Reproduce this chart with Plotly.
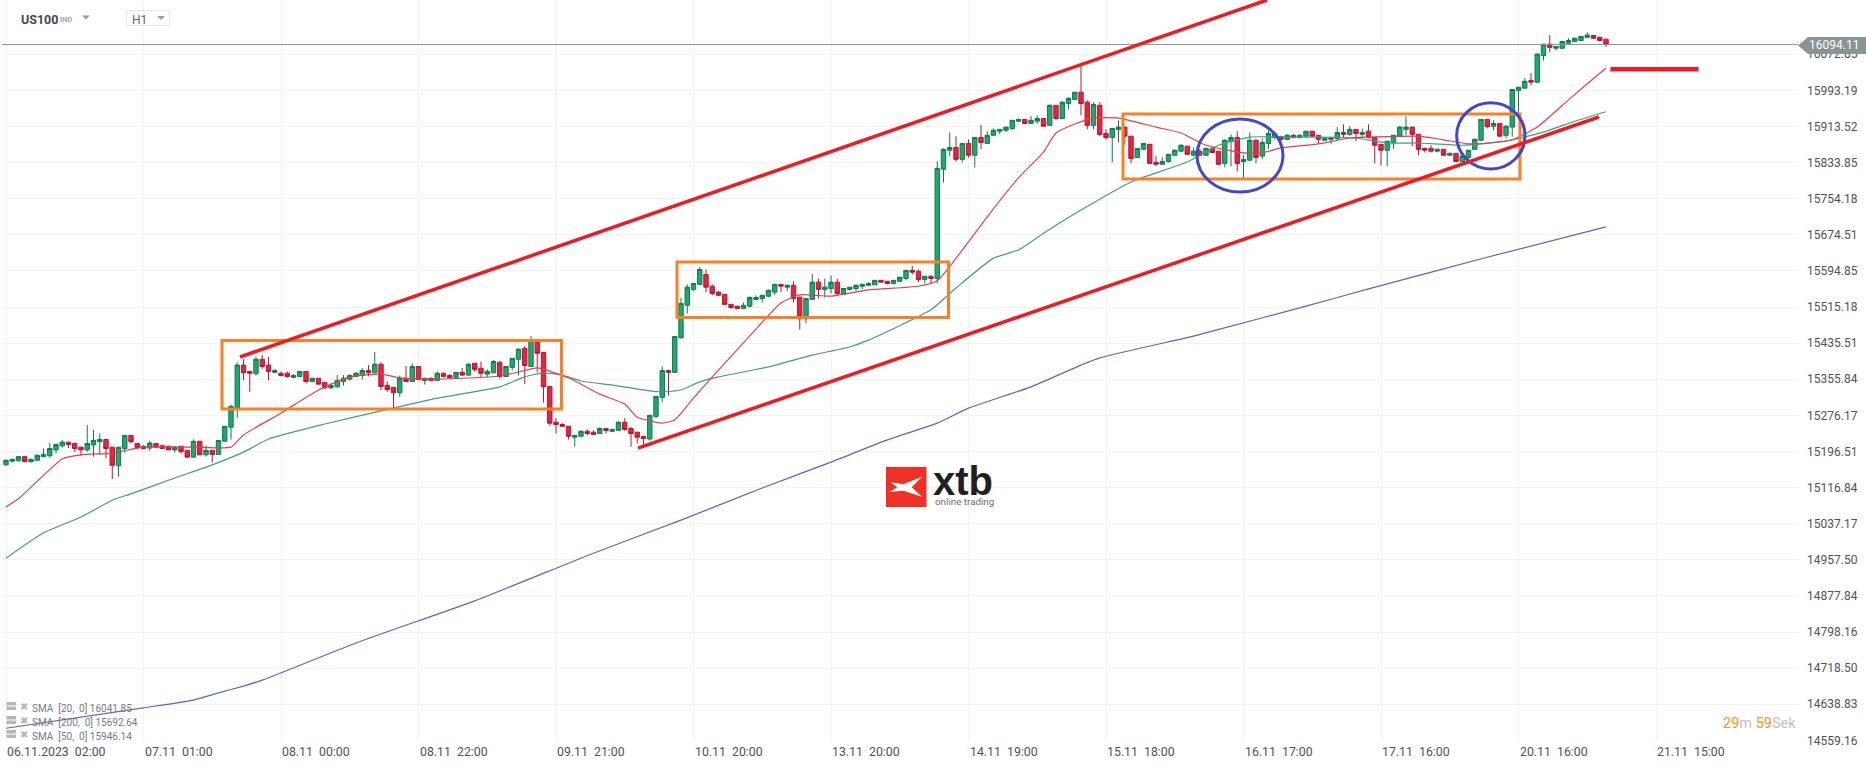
"""US100 H1 candlestick chart with SMA lines and drawn-on channel and boxes."""

import plotly.graph_objects as go

WIDTH = 1866
HEIGHT = 767
FONT = "Roboto"

# Values, one candle per trading hour.
opens = [
    15167, 15175, 15176, 15185, 15174, 15177, 15185, 15187, 15200, 15209,
    15217, 15214, 15206, 15200, 15211, 15218, 15223, 15206, 15165, 15203,
    15232, 15214, 15208, 15204, 15214, 15209, 15208, 15200, 15208, 15199,
    15184, 15219, 15189, 15199, 15190, 15219, 15250, 15293, 15387, 15373,
    15368, 15400, 15387, 15371, 15369, 15369, 15360, 15362, 15373, 15351,
    15358, 15349, 15337, 15339, 15351, 15356, 15362, 15364, 15375, 15370,
    15389, 15342, 15338, 15326, 15358, 15351, 15384, 15353, 15358, 15353,
    15369, 15364, 15360, 15371, 15365, 15391, 15380, 15367, 15370, 15393,
    15362, 15382, 15400, 15424, 15384, 15442, 15415, 15340, 15261, 15256,
    15252, 15228, 15230, 15241, 15239, 15236, 15247, 15241, 15243, 15261,
    15247, 15239, 15230, 15224, 15274, 15316, 15375, 15371, 15447, 15519,
    15554, 15565, 15587, 15561, 15548, 15543, 15521, 15517, 15512, 15517,
    15532, 15534, 15539, 15548, 15565, 15559, 15563, 15537, 15489, 15532,
    15570, 15554, 15556, 15570, 15543, 15554, 15556, 15561, 15563, 15564,
    15574, 15572, 15567, 15572, 15578, 15596, 15594, 15576, 15583, 15578,
    15819, 15861, 15867, 15841, 15876, 15850, 15889, 15876, 15894, 15903,
    15905, 15909, 15925, 15929, 15920, 15925, 15931, 15916, 15960, 15931,
    15964, 15973, 15989, 15967, 15916, 15960, 15898, 15889, 15907, 15912,
    15892, 15845, 15863, 15874, 15834, 15830, 15836, 15850, 15859, 15870,
    15850, 15859, 15850, 15865, 15859, 15832, 15880, 15889, 15836, 15839,
    15883, 15848, 15876, 15889, 15891, 15885, 15894, 15889, 15892, 15903,
    15894, 15883, 15885, 15887, 15900, 15896, 15907, 15896, 15903, 15889,
    15874, 15861, 15878, 15892, 15907, 15912, 15896, 15865, 15865, 15859,
    15863, 15850, 15854, 15836, 15845, 15863, 15883, 15929, 15914, 15920,
    15894, 15912, 15993, 15998, 16015, 16011, 16070, 16095, 16086, 16086,
    16097, 16101, 16103, 16110, 16114, 16110, 16106,
]
highs = [
    15179, 15181, 15186, 15186, 15181, 15190, 15203, 15215, 15214, 15222,
    15217, 15216, 15207, 15255, 15244, 15236, 15223, 15206, 15206, 15232,
    15232, 15214, 15210, 15220, 15214, 15212, 15209, 15209, 15208, 15199,
    15223, 15219, 15210, 15199, 15221, 15252, 15300, 15393, 15400, 15373,
    15405, 15409, 15405, 15378, 15373, 15373, 15367, 15374, 15373, 15358,
    15358, 15349, 15347, 15365, 15365, 15367, 15372, 15380, 15387, 15416,
    15393, 15351, 15338, 15364, 15385, 15391, 15384, 15359, 15360, 15373,
    15371, 15367, 15371, 15381, 15391, 15391, 15395, 15378, 15398, 15396,
    15384, 15402, 15424, 15429, 15451, 15445, 15415, 15340, 15270, 15259,
    15252, 15232, 15243, 15245, 15243, 15250, 15247, 15247, 15263, 15270,
    15250, 15239, 15230, 15278, 15318, 15384, 15375, 15450, 15536, 15565,
    15567, 15603, 15598, 15565, 15550, 15543, 15521, 15517, 15525, 15539,
    15541, 15541, 15554, 15567, 15565, 15565, 15572, 15537, 15534, 15588,
    15578, 15578, 15585, 15578, 15556, 15559, 15565, 15567, 15570, 15574,
    15574, 15572, 15574, 15581, 15596, 15606, 15598, 15583, 15585, 15837,
    15865, 15900, 15892, 15876, 15885, 15889, 15917, 15903, 15909, 15907,
    15912, 15927, 15931, 15929, 15936, 15938, 15931, 15962, 15960, 15969,
    15978, 15989, 16047, 15971, 15967, 15967, 15907, 15909, 15927, 15912,
    15892, 15865, 15876, 15874, 15848, 15845, 15852, 15863, 15874, 15870,
    15867, 15863, 15867, 15869, 15859, 15885, 15896, 15903, 15850, 15900,
    15885, 15887, 15905, 15903, 15893, 15896, 15896, 15896, 15903, 15903,
    15894, 15889, 15891, 15912, 15918, 15914, 15907, 15909, 15918, 15889,
    15874, 15881, 15894, 15914, 15936, 15912, 15896, 15867, 15872, 15865,
    15863, 15856, 15854, 15854, 15861, 15887, 15929, 15929, 15927, 15920,
    15916, 15995, 16000, 16020, 16031, 16075, 16095, 16115, 16090, 16101,
    16108, 16110, 16112, 16121, 16114, 16112, 16106,
]
lows = [
    15165, 15173, 15175, 15173, 15172, 15176, 15184, 15183, 15192, 15205,
    15204, 15195, 15187, 15196, 15185, 15189, 15181, 15136, 15141, 15194,
    15214, 15201, 15201, 15198, 15204, 15203, 15200, 15194, 15192, 15183,
    15184, 15189, 15185, 15172, 15190, 15219, 15223, 15271, 15354, 15328,
    15364, 15379, 15353, 15370, 15362, 15359, 15358, 15360, 15346, 15351,
    15344, 15334, 15334, 15338, 15342, 15353, 15360, 15355, 15362, 15369,
    15332, 15328, 15292, 15317, 15349, 15350, 15354, 15344, 15351, 15352,
    15360, 15358, 15359, 15363, 15364, 15372, 15359, 15360, 15370, 15358,
    15362, 15375, 15364, 15345, 15384, 15371, 15304, 15253, 15236, 15250,
    15223, 15207, 15229, 15232, 15233, 15236, 15236, 15239, 15242, 15242,
    15207, 15214, 15210, 15220, 15270, 15305, 15320, 15371, 15447, 15501,
    15550, 15565, 15548, 15541, 15539, 15519, 15511, 15510, 15511, 15514,
    15530, 15525, 15537, 15541, 15548, 15550, 15525, 15465, 15479, 15532,
    15534, 15536, 15545, 15541, 15542, 15552, 15550, 15554, 15562, 15564,
    15569, 15565, 15565, 15570, 15574, 15587, 15570, 15567, 15565, 15567,
    15790, 15848, 15836, 15834, 15845, 15823, 15863, 15876, 15893, 15896,
    15901, 15906, 15923, 15920, 15919, 15920, 15912, 15915, 15927, 15931,
    15951, 15972, 15938, 15907, 15907, 15892, 15884, 15834, 15878, 15874,
    15832, 15845, 15862, 15831, 15826, 15829, 15834, 15848, 15857, 15851,
    15847, 15847, 15850, 15854, 15828, 15823, 15825, 15814, 15800, 15837,
    15832, 15841, 15864, 15885, 15882, 15883, 15887, 15887, 15891, 15891,
    15876, 15881, 15874, 15882, 15889, 15893, 15881, 15889, 15887, 15832,
    15827, 15826, 15864, 15891, 15894, 15870, 15850, 15856, 15856, 15856,
    15849, 15849, 15836, 15836, 15832, 15862, 15882, 15909, 15905, 15891,
    15887, 15891, 15942, 15997, 16004, 16010, 16059, 16077, 16081, 16084,
    16095, 16099, 16103, 16109, 16107, 16101, 16089,
]
closes = [
    15177, 15179, 15185, 15174, 15179, 15188, 15190, 15203, 15212, 15217,
    15212, 15203, 15200, 15214, 15221, 15223, 15203, 15166, 15206, 15232,
    15218, 15205, 15203, 15215, 15206, 15203, 15200, 15206, 15196, 15184,
    15219, 15189, 15199, 15190, 15221, 15252, 15296, 15387, 15370, 15369,
    15400, 15384, 15373, 15375, 15364, 15362, 15364, 15373, 15351, 15358,
    15345, 15337, 15342, 15353, 15358, 15364, 15369, 15375, 15370, 15389,
    15340, 15333, 15326, 15358, 15351, 15384, 15355, 15358, 15353, 15369,
    15362, 15359, 15371, 15365, 15389, 15377, 15369, 15373, 15395, 15362,
    15384, 15402, 15422, 15386, 15442, 15413, 15339, 15259, 15256, 15252,
    15230, 15232, 15241, 15236, 15234, 15247, 15243, 15245, 15261, 15245,
    15236, 15228, 15225, 15276, 15318, 15375, 15371, 15450, 15523, 15559,
    15567, 15598, 15559, 15545, 15541, 15521, 15514, 15512, 15519, 15536,
    15536, 15541, 15552, 15565, 15561, 15563, 15534, 15489, 15534, 15570,
    15554, 15559, 15570, 15545, 15556, 15559, 15563, 15565, 15567, 15574,
    15570, 15567, 15574, 15581, 15596, 15592, 15576, 15583, 15578, 15821,
    15863, 15867, 15841, 15876, 15850, 15889, 15878, 15894, 15905, 15907,
    15912, 15927, 15929, 15920, 15927, 15931, 15914, 15960, 15931, 15967,
    15975, 15989, 15964, 15916, 15962, 15896, 15889, 15909, 15912, 15892,
    15843, 15865, 15876, 15832, 15830, 15836, 15852, 15861, 15872, 15852,
    15859, 15850, 15865, 15856, 15830, 15883, 15889, 15832, 15841, 15883,
    15845, 15878, 15898, 15897, 15885, 15894, 15889, 15894, 15903, 15892,
    15885, 15887, 15889, 15900, 15896, 15907, 15898, 15900, 15889, 15872,
    15861, 15881, 15894, 15912, 15912, 15896, 15863, 15861, 15859, 15863,
    15850, 15854, 15836, 15848, 15861, 15885, 15929, 15913, 15920, 15892,
    15914, 15995, 16000, 16013, 16011, 16073, 16095, 16088, 16090, 16101,
    16103, 16108, 16112, 16115, 16108, 16103, 16094,
]

# Moving averages, read at the bars where the lines bend.
sma20_bars = [0, 2, 9, 12, 17, 22, 30, 36, 38, 44, 50, 55, 60, 63, 69, 79, 85,
              86, 90, 95, 99, 101, 105, 107, 110, 113, 118, 124, 127, 132, 138,
              146, 149, 154, 157, 162, 166, 168, 171, 174, 178, 184, 188, 192,
              198, 201, 204, 210, 215, 218, 226, 230, 234, 237, 241, 245, 250,
              255, 256]
sma20_vals = [15074, 15092, 15180, 15189, 15193, 15206, 15206, 15206, 15233,
              15281, 15332, 15361, 15367, 15359, 15356, 15363, 15381, 15378,
              15359, 15323, 15301, 15272, 15259, 15266, 15314, 15361, 15436,
              15524, 15542, 15539, 15553, 15561, 15573, 15659, 15714, 15800,
              15857, 15899, 15919, 15932, 15932, 15912, 15899, 15872, 15855,
              15855, 15866, 15875, 15888, 15890, 15892, 15884, 15875, 15877,
              15884, 15912, 15972, 16031, 16042]
sma50_bars = [0, 6, 12, 17, 20, 27, 33, 38, 42, 51, 60, 69, 79, 83, 86, 89, 92,
              97, 103, 105, 108, 111, 114, 122, 129, 135, 138, 148, 152, 158,
              162, 166, 172, 180, 189, 194, 199, 205, 210, 216, 221, 226, 233,
              240, 246, 251, 256]
sma50_vals = [14961, 15017, 15052, 15089, 15103, 15138, 15167, 15195, 15224,
              15257, 15286, 15314, 15339, 15361, 15370, 15365, 15352, 15343,
              15330, 15328, 15332, 15350, 15361, 15383, 15409, 15427, 15442,
              15509, 15557, 15623, 15641, 15678, 15729, 15791, 15835, 15872,
              15890, 15890, 15890, 15888, 15877, 15877, 15872, 15881, 15901,
              15925, 15946]
sma200_bars = [0, 22, 30, 34, 38, 41, 56, 75, 94, 108, 121, 132, 141, 149, 154,
               164, 172, 175, 190, 193, 208, 218, 237, 256]
sma200_vals = [14586, 14631, 14648, 14664, 14679, 14692, 14774, 14867, 14972,
               15045, 15116, 15173, 15222, 15259, 15292, 15339, 15387, 15403,
               15451, 15462, 15517, 15555, 15625, 15692]

price_ticks = [16072.85, 15993.19, 15913.52, 15833.85, 15754.18, 15674.51,
               15594.85, 15515.18, 15435.51, 15355.84, 15276.17, 15196.51,
               15116.84, 15037.17, 14957.50, 14877.84, 14798.16, 14718.50,
               14638.83, 14559.16]
time_labels = ["06.11.2023  02:00", "07.11  01:00", "08.11  00:00",
               "08.11  22:00", "09.11  21:00", "10.11  20:00", "13.11  20:00",
               "14.11  19:00", "15.11  18:00", "16.11  17:00", "17.11  16:00",
               "20.11  16:00", "21.11  15:00"]
BARS_PER_LABEL = 22

last_price = 16094.11
sma_legend = ["SMA  [20,  0] 16041.85", "SMA  [200,  0] 15692.64",
              "SMA  [50,  0] 15946.14"]

# Drawn-on marks as (first bar, last bar, top price, bottom price).
orange_boxes = [(34.56, 88.88, 15441.3, 15290.1),
                (107.36, 150.8, 15614.4, 15492.0),
                (178.72, 242.24, 15940.9, 15797.5)]
blue_circles = [(190.56, 204.32, 15929.9, 15768.9),
                (232.1, 243.04, 15965.8, 15819.6)]
# Red lines as (bar, price, bar, price).
channel_lines = [(37.44, 15404.9, 201.76, 16192.4),
                 (101.12, 15204.0, 254.88, 15934.3)]
target_line = (256.7, 16039.5, 270.8, 16039.5)


def px_x(x):
    """Turn a page pixel into a paper x for the interface decorations."""
    return (x - 2) / 1796


def px_y(y):
    """Turn a page pixel into a paper y for the interface decorations."""
    return (741 - y) / 741


def paper_path(points):
    """Build a closed SVG path in paper units from page pixels."""
    parts = [f"{px_x(x):.5f},{px_y(y):.5f}" for x, y in points]
    return "M" + " L".join(parts) + " Z"


def paper_shape(**kwargs):
    return dict(xref="paper", yref="paper", **kwargs)


def text_at(x, y, text, size=12, color="#4d5358", anchor="left", **kwargs):
    font = dict(family=kwargs.pop("family", FONT), size=size, color=color)
    return dict(xref="paper", yref="paper", x=px_x(x), y=px_y(y), text=text,
                showarrow=False, xanchor=anchor, yanchor="middle", font=font,
                borderpad=0, **kwargs)


bars = list(range(len(opens)))

fig = go.Figure()
fig.add_trace(go.Candlestick(
    x=bars, open=opens, high=highs, low=lows, close=closes,
    increasing=dict(line=dict(color="#0f7a50", width=1), fillcolor="#20a96f"),
    decreasing=dict(line=dict(color="#b01b30", width=1), fillcolor="#ee2040"),
    whiskerwidth=0, hoverinfo="skip", showlegend=False))

for xs, ys, color in [(sma200_bars, sma200_vals, "#5a63c6"),
                      (sma50_bars, sma50_vals, "#3d9f7e"),
                      (sma20_bars, sma20_vals, "#e2404c")]:
    fig.add_trace(go.Scatter(
        x=xs, y=ys, mode="lines", showlegend=False, hoverinfo="skip",
        line=dict(color=color, width=1.2, shape="spline", smoothing=0.5)))

shapes = [
    # White patches that cut the grid at the header and behind the logo.
    paper_shape(type="rect", x0=0, x1=1, y0=px_y(18), y1=1, layer="between",
                fillcolor="white", line_width=0),
    paper_shape(type="rect", x0=px_x(873), x1=px_x(1003), y0=px_y(512),
                y1=px_y(462), layer="between", fillcolor="white", line_width=0),
    # Last price line and its tag.
    dict(type="line", xref="paper", yref="y", x0=0, x1=1, y0=last_price,
         y1=last_price, line=dict(color="#8a9396", width=1)),
    paper_shape(type="path", fillcolor="#8a9396", line_width=0, path=paper_path(
        [(1798, 45.5), (1808, 37), (1866, 37), (1866, 54), (1808, 54)])),
    # Header controls.
    paper_shape(type="rect", x0=px_x(126.5), x1=px_x(169.5), y0=px_y(25.5),
                y1=px_y(10.5), line=dict(color="#e3e5e6", width=1)),
    paper_shape(type="path", fillcolor="#9a9fa3", line_width=0,
                path=paper_path([(82, 15.5), (90, 15.5), (86, 19.5)])),
    paper_shape(type="path", fillcolor="#9a9fa3", line_width=0,
                path=paper_path([(157, 16), (165, 16), (161, 20)])),
    # Logo square and its mark.
    paper_shape(type="rect", x0=px_x(886), x1=px_x(926.5), y0=px_y(507),
                y1=px_y(467), fillcolor="#ee3124", line_width=0),
    paper_shape(type="path", fillcolor="white", line_width=0, path=paper_path(
        [(890.7, 482.3), (903.3, 484.3), (922, 476.7), (911.7, 487.3),
         (922, 496.7), (903.3, 490.7), (889.3, 492), (897.3, 487.3)])),
]

for box in orange_boxes:
    shapes.append(dict(type="rect", x0=box[0], x1=box[1], y0=box[2], y1=box[3],
                       line=dict(color="#fb7f24", width=3)))
for circle in blue_circles:
    shapes.append(dict(type="circle", x0=circle[0], x1=circle[1], y0=circle[2],
                       y1=circle[3], line=dict(color="#3f48cc", width=3)))
for line in channel_lines:
    shapes.append(dict(type="line", x0=line[0], y0=line[1], x1=line[2],
                       y1=line[3], line=dict(color="#ed1c24", width=3.5)))
shapes.append(dict(type="line", x0=target_line[0], y0=target_line[1],
                   x1=target_line[2], y1=target_line[3],
                   line=dict(color="#ed1c24", width=4.5)))

annotations = []
for index, label in enumerate(time_labels):
    annotations.append(dict(
        xref="x", yref="paper", x=index * BARS_PER_LABEL, y=px_y(752),
        text=label.replace("  ", "\u00a0\u00a0"), showarrow=False,
        xanchor="left", yanchor="middle", xshift=-1,
        font=dict(family=FONT, size=12.3, color="#4d5358")))

for row, label in enumerate(sma_legend):
    center = 706 + row * 14
    shapes.append(paper_shape(type="rect", x0=px_x(6.5), x1=px_x(16),
                              y0=px_y(center + 4), y1=px_y(center - 4),
                              fillcolor="#b4b7b9", line_width=0))
    shapes.append(dict(type="line", xref="paper", yref="paper", x0=px_x(6.5),
                       x1=px_x(16), y0=px_y(center), y1=px_y(center),
                       line=dict(color="white", width=1)))
    annotations.append(text_at(19, center, "\u2716", 10, "#b4b7b9"))
    annotations.append(text_at(31, center + 2, label.replace("  ", "\u00a0\u00a0"),
                               10, "#777b7e"))

annotations += [
    text_at(1808, 45.5, f"{last_price:.2f}", 12, "white"),
    text_at(20, 19, "<b>US100</b>", 12.5, "#3f4a52"),
    text_at(59, 19, "<b>IND</b>", 7.5, "#a3a7aa"),
    text_at(131, 20, "H1", 12, "#60666a"),
    text_at(1797, 723, '<span style="color:#f7941d">29</span>m '
            '<span style="color:#f7941d">59</span>Sek', 14.5, "#bcbfc2",
            anchor="right"),
    text_at(932, 481, "<b>xtb</b>", 40, "#231f20", family="Liberation Sans"),
    text_at(934, 501.5, "online trading", 9.8, "#6d6e70"),
]

fig.update_layout(
    width=WIDTH, height=HEIGHT, margin=dict(l=2, r=68, t=0, b=26),
    paper_bgcolor="white", plot_bgcolor="white", showlegend=False,
    boxgroupgap=0, boxgap=0.3,
    shapes=shapes, annotations=annotations,
    font=dict(family=FONT, size=12, color="#4d5358"),
    xaxis=dict(range=[-0.64, 286.72], rangeslider_visible=False,
               tickvals=[i * BARS_PER_LABEL for i in range(len(time_labels))],
               showticklabels=False, ticks="", showgrid=True,
               gridcolor="#f1f2f2", gridwidth=1, zeroline=False,
               showline=False),
    yaxis=dict(range=[14557.8, 16192.4], side="right", tickvals=price_ticks,
               ticktext=[f"{p:.2f}" for p in price_ticks], ticks="",
               ticklabelstandoff=8, showgrid=True, gridcolor="#f1f2f2",
               gridwidth=1, zeroline=False, showline=False,
               tickfont=dict(family=FONT, size=12, color="#4d5358")),
)

fig.write_html("out.html", config=dict(displayModeBar=False),
               post_script="document.body.style.margin='0';")
